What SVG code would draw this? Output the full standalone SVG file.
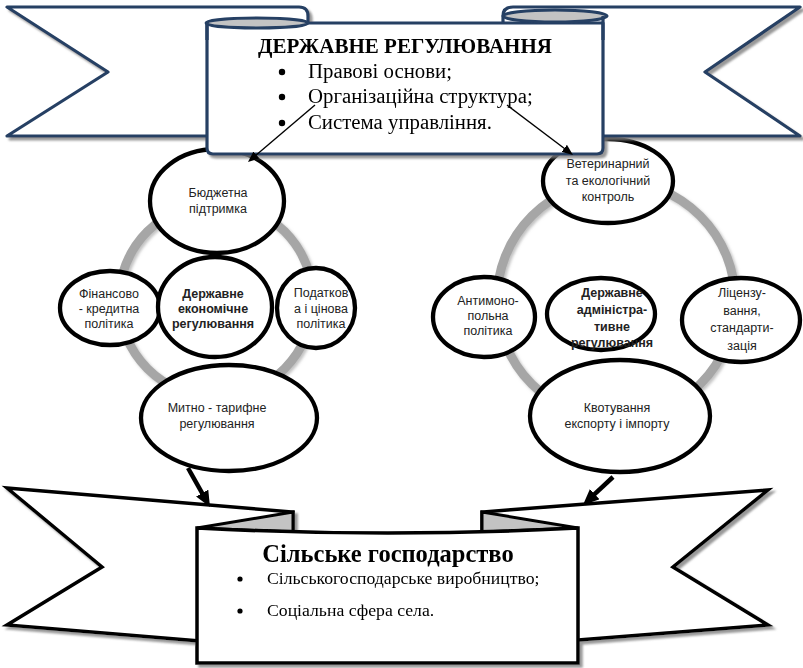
<svg xmlns="http://www.w3.org/2000/svg" width="803" height="668" viewBox="0 0 803 668">
<defs>
<style>
.nv{fill:#fff;stroke:#253F64;stroke-width:3.2;stroke-linejoin:round}
.nvg{fill:#C3C3C3;stroke:#253F64;stroke-width:3}
.bk{fill:#fff;stroke:#000;stroke-width:3.5;stroke-linejoin:miter}
.bkg{fill:#C3C3C3;stroke:#000;stroke-width:3;stroke-linejoin:miter}
.ring{fill:none;stroke:#A6A6A6;stroke-width:9}
.el{fill:#fff;stroke:#000;stroke-width:4.3}
.lbl{font-family:"Liberation Sans",Arial,sans-serif;font-size:12.5px;fill:#222;text-anchor:middle}
.b{font-weight:bold}
.ser{font-family:"Liberation Serif","Times New Roman",serif;fill:#000}
.thin{stroke:#000;stroke-width:1.4;fill:none}
.thick{stroke:#000;stroke-width:4.5;fill:none}
</style>
<filter id="sh" x="-5%" y="-5%" width="115%" height="120%">
<feDropShadow dx="3" dy="3" stdDeviation="1" flood-color="#7f7f7f" flood-opacity="0.8"/>
</filter>
<filter id="sh2" x="-10%" y="-10%" width="125%" height="125%">
<feDropShadow dx="2" dy="2" stdDeviation="1.5" flood-color="#999" flood-opacity="0.6"/>
</filter>
<marker id="ah" markerWidth="11" markerHeight="9" refX="4" refY="4.5" orient="auto" markerUnits="userSpaceOnUse">
<path d="M0,0 L11,4.5 L0,9 Z" fill="#000"/>
</marker>
<marker id="ahb" markerWidth="16" markerHeight="14" refX="6" refY="7" orient="auto" markerUnits="userSpaceOnUse">
<path d="M0,0 L16,7 L0,14 Z" fill="#000"/>
</marker>
</defs>

<g id="left-cluster">
<circle class="ring" cx="216" cy="300" r="97" filter="url(#sh2)"/>
<g id="n-budget">
<ellipse class="el" cx="217" cy="201" rx="67" ry="52"/>
<text class="lbl" x="218" y="197">Бюджетна</text>
<text class="lbl" x="218" y="213">підтримка</text>
</g>
<g id="n-finance">
<ellipse class="el" cx="110" cy="308" rx="50" ry="37"/>
<text class="lbl" x="109" y="298">Фінансово</text>
<text class="lbl" x="109" y="313">- кредитна</text>
<text class="lbl" x="109" y="328">політика</text>
</g>
<g id="n-tax">
<ellipse class="el" cx="316" cy="308" rx="39" ry="40"/>
<text class="lbl" x="321" y="297">Податков</text>
<text class="lbl" x="321" y="313">а і цінова</text>
<text class="lbl" x="321" y="328">політика</text>
</g>
<g id="n-econ">
<ellipse class="el" cx="215" cy="307" rx="57" ry="50"/>
<text class="lbl b" x="213" y="298">Державне</text>
<text class="lbl b" x="213" y="313">економічне</text>
<text class="lbl b" x="213" y="328">регулювання</text>
</g>
<g id="n-customs">
<ellipse class="el" cx="229" cy="418" rx="88" ry="53"/>
<text class="lbl" x="217" y="412">Митно - тарифне</text>
<text class="lbl" x="217" y="428">регулювання</text>
</g>
</g>

<g id="right-cluster">
<circle class="ring" cx="616" cy="300" r="119" filter="url(#sh2)"/>
<g id="n-vet">
<ellipse class="el" cx="608" cy="181" rx="65" ry="42"/>
<text class="lbl" x="608" y="168">Ветеринарний</text>
<text class="lbl" x="608" y="185">та екологічний</text>
<text class="lbl" x="608" y="201">контроль</text>
</g>
<g id="n-antimono">
<ellipse class="el" cx="484" cy="317" rx="51" ry="40"/>
<text class="lbl" x="488" y="305">Антимоно-</text>
<text class="lbl" x="488" y="320">польна</text>
<text class="lbl" x="488" y="335">політика</text>
</g>
<g id="n-admin">
<ellipse class="el" cx="601" cy="314" rx="54" ry="36"/>
<text class="lbl b" x="612" y="297">Державне</text>
<text class="lbl b" x="612" y="314">адміністра-</text>
<text class="lbl b" x="612" y="331">тивне</text>
<text class="lbl b" x="612" y="347">регулювання</text>
</g>
<g id="n-license">
<ellipse class="el" cx="741" cy="320" rx="59" ry="42"/>
<text class="lbl" x="742" y="297">Ліцензу-</text>
<text class="lbl" x="742" y="315">вання,</text>
<text class="lbl" x="742" y="332">стандарти-</text>
<text class="lbl" x="742" y="350">зація</text>
</g>
<g id="n-quota">
<ellipse class="el" cx="620" cy="416" rx="90" ry="56"/>
<text class="lbl" x="617" y="412">Квотування</text>
<text class="lbl" x="617" y="428">експорту і імпорту</text>
</g>
</g>

<g id="top-banner" filter="url(#sh)">
<path class="nv" d="M7,7 L299,7 Q308,7 308,16 L308,136 L7,136 L108,72 Z"/>
<path class="nv" d="M800,7 L513,7 Q503,7 503,16 L503,136 L800,136 L705,72 Z"/>
<path class="nv" d="M207,23 L603,23 L603,148 Q603,154 597,154 L213,154 Q207,154 207,148 Z"/>
<ellipse class="nvg" cx="257" cy="23" rx="51" ry="5"/>
<ellipse class="nvg" cx="555" cy="16" rx="52" ry="6"/>
<path d="M207,23 L207,40 M603,16 L603,40" stroke="#253F64" stroke-width="3.2" fill="none"/>
<text class="ser b" x="405" y="53" font-size="21" text-anchor="middle">ДЕРЖАВНЕ РЕГУЛЮВАННЯ</text>
<circle cx="282" cy="72" r="3.2" fill="#000"/>
<circle cx="282" cy="97" r="3.2" fill="#000"/>
<circle cx="282" cy="123" r="3.2" fill="#000"/>
<text class="ser" x="308" y="78" font-size="20.8">Правові основи;</text>
<text class="ser" x="308" y="103" font-size="20.8">Організаційна структура;</text>
<text class="ser" x="308" y="129" font-size="20.8">Система управління.</text>
</g>

<g id="bottom-banner" filter="url(#sh)">
<path class="bk" d="M7,488 L293,512 L293,641 L200,641 L7,625 L102,567 Z"/>
<path class="bk" d="M768,490 L482,512 L482,641 L578,640 L768,625 L673,567 Z"/>
<path class="bkg" d="M197,528 L293,512 L293,532 Z"/>
<path class="bkg" d="M578,528 L482,512 L482,532 Z"/>
<path class="bk" d="M197,528 Q388,538 578,528 L578,663 L197,663 Z"/>
<text class="ser b" x="388" y="562" font-size="24.5" text-anchor="middle">Сільське господарство</text>
<circle cx="240" cy="579" r="2.6" fill="#000"/>
<circle cx="240" cy="611" r="2.6" fill="#000"/>
<text class="ser" x="267" y="584" font-size="17.7">Сільськогосподарське виробництво;</text>
<text class="ser" x="267" y="616" font-size="17.7">Соціальна сфера села.</text>
</g>

<g id="connectors">
<line class="thin" x1="315" y1="105" x2="253.3" y2="157.5" marker-end="url(#ah)"/>
<line class="thin" x1="507" y1="105" x2="567.4" y2="150.8" marker-end="url(#ah)"/>
<line class="thick" x1="188" y1="468" x2="205.1" y2="498.3" marker-end="url(#ahb)"/>
<line class="thick" x1="613" y1="477" x2="590.3" y2="498.2" marker-end="url(#ahb)"/>
</g>
</svg>
